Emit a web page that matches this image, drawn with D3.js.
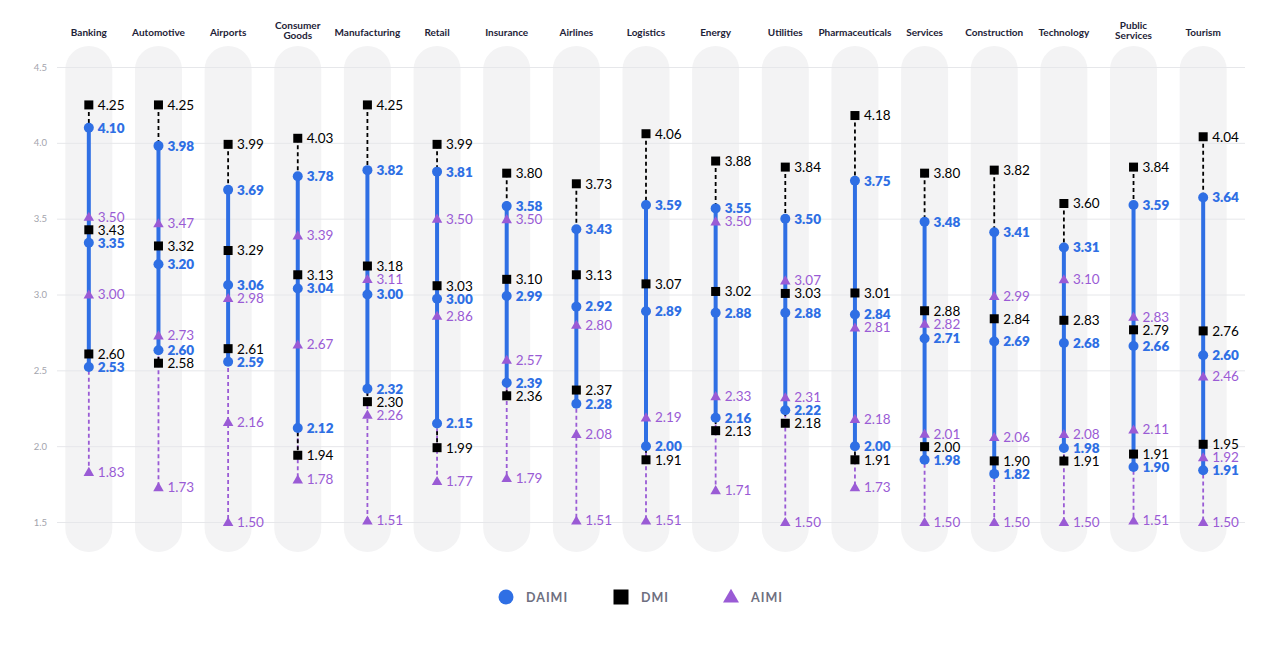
<!DOCTYPE html>
<html lang="en">
<head>
<meta charset="UTF-8">
<script src="https://d3js.org/d3.v7.min.js"></script>
<style>
  body { margin: 0; background: #fff; }
  svg text { font-family: Lato, "Noto Sans", sans-serif; }
</style>
</head>
<body>
<div id="chart"></div>
<script>
const categories = ["Banking", "Automotive", "Airports", "Consumer Goods", "Manufacturing", "Retail",
  "Insurance", "Airlines", "Logistics", "Energy", "Utilities", "Pharmaceuticals", "Services",
  "Construction", "Technology", "Public Services", "Tourism"];

// high / middle / low per sector
const daimiHigh = [4.10, 3.98, 3.69, 3.78, 3.82, 3.81, 3.58, 3.43, 3.59, 3.55, 3.50, 3.75, 3.48, 3.41, 3.31, 3.59, 3.64];
const daimiMid  = [3.35, 3.20, 3.06, 3.04, 3.00, 3.00, 2.99, 2.92, 2.89, 2.88, 2.88, 2.84, 2.71, 2.69, 2.68, 2.66, 2.60];
const daimiLow  = [2.53, 2.60, 2.59, 2.12, 2.32, 2.15, 2.39, 2.28, 2.00, 2.16, 2.22, 2.00, 1.98, 1.82, 1.98, 1.90, 1.91];

const dmiHigh = [4.25, 4.25, 3.99, 4.03, 4.25, 3.99, 3.80, 3.73, 4.06, 3.88, 3.84, 4.18, 3.80, 3.82, 3.60, 3.84, 4.04];
const dmiMid  = [3.43, 3.32, 3.29, 3.13, 3.18, 3.03, 3.10, 3.13, 3.07, 3.02, 3.03, 3.01, 2.88, 2.84, 2.83, 2.79, 2.76];
const dmiLow  = [2.60, 2.58, 2.61, 1.94, 2.30, 1.99, 2.36, 2.37, 1.91, 2.13, 2.18, 1.91, 2.00, 1.90, 1.91, 1.91, 1.95];

const aimiHigh = [3.50, 3.47, 2.98, 3.39, 3.11, 3.50, 3.50, 2.80, null, 3.50, 3.07, 2.81, 2.82, 2.99, 3.10, 2.83, 2.46];
const aimiMid  = [3.00, 2.73, 2.16, 2.67, 2.26, 2.86, 2.57, 2.08, 2.19, 2.33, 2.31, 2.18, 2.01, 2.06, 2.08, 2.11, 1.92];
const aimiLow  = [1.83, 1.73, 1.50, 1.78, 1.51, 1.77, 1.79, 1.51, 1.51, 1.71, 1.50, 1.73, 1.50, 1.50, 1.50, 1.51, 1.50];

const yTicks = [1.5, 2.0, 2.5, 3.0, 3.5, 4.0, 4.5];

const BLUE = "#2f6fe4", PURPLE = "#9a5bd5", BLACK = "#000";

const width = 1280, height = 647;
const svg = d3.select("#chart").append("svg")
  .attr("width", width).attr("height", height);

const x = d3.scaleBand().domain(categories).range([54, 1238]).padding(0);
const y = d3.scaleLinear().domain([1.5, 4.5]).range([522, 67]);
const cx = d => x(d) + x.bandwidth() / 2;

// background pills
const pillW = 47;
svg.append("g").selectAll("rect").data(categories).join("rect")
  .attr("x", d => cx(d) - pillW / 2)
  .attr("y", 46)
  .attr("width", pillW)
  .attr("height", 506)
  .attr("rx", pillW / 2)
  .attr("fill", "#f3f3f4");

// grid + y labels
const yAxis = svg.append("g")
  .attr("transform", "translate(57,0)")
  .call(d3.axisLeft(y).tickValues(yTicks).tickFormat(d3.format(".1f")).tickSize(-1188).tickPadding(10));
yAxis.select(".domain").remove();
yAxis.selectAll(".tick line").attr("stroke", "#e6e7ea").attr("stroke-width", 1);
yAxis.selectAll(".tick text").attr("fill", "#a3a4ad").attr("font-size", 9.5);

// category labels
const catG = svg.append("g");
categories.forEach(c => {
  const parts = c === "Consumer Goods" ? ["Consumer", "Goods"]
              : c === "Public Services" ? ["Public", "Services"] : [c];
  const t = catG.append("text")
    .attr("x", cx(c))
    .attr("y", parts.length > 1 ? 29 : 36)
    .attr("text-anchor", "middle")
    .attr("font-size", 10)
    .attr("font-weight", 700)
    .attr("fill", "#1d2237");
  parts.forEach((p, i) => t.append("tspan").attr("x", cx(c)).attr("dy", i ? 9.5 : 0).text(p));
});

// collect points, then spread the ones that sit too close in a column
const series = [
  { key: "aimi", kind: "tri", color: PURPLE, arrs: [aimiHigh, aimiMid, aimiLow] },
  { key: "dmi", kind: "sq", color: BLACK, arrs: [dmiHigh, dmiMid, dmiLow] },
  { key: "daimi", kind: "circ", color: BLUE, arrs: [daimiHigh, daimiMid, daimiLow] }
];
const pts = [];
series.forEach(s => s.arrs.forEach(arr => arr.forEach((v, i) => {
  if (v != null) pts.push({ s: s.key, kind: s.kind, color: s.color, ci: i, cat: categories[i], v, py: y(v) });
})));

const gap = 13;
categories.forEach((c, ci) => {
  const col = pts.filter(p => p.ci === ci).sort((a, b) => a.py - b.py || b.v - a.v);
  for (let it = 0; it < 300; it++) {
    let moved = false;
    for (let k = 1; k < col.length; k++) {
      const d = col[k].py - col[k - 1].py;
      if (d < gap - 0.01) {
        const sh = (gap - d) / 2;
        col[k - 1].py -= sh;
        col[k].py += sh;
        moved = true;
      }
    }
    if (!moved) break;
  }
});

// range lines, between the extreme points of each series
function rangeLine(s, width, dash) {
  const spans = categories.map((c, ci) => {
    const ys = pts.filter(p => p.s === s && p.ci === ci).map(p => p.py);
    return { c, y1: d3.min(ys), y2: d3.max(ys) };
  });
  svg.append("g").selectAll("line").data(spans).join("line")
    .attr("x1", d => cx(d.c)).attr("x2", d => cx(d.c))
    .attr("y1", d => d.y1).attr("y2", d => d.y2)
    .attr("stroke", s === "aimi" ? PURPLE : s === "dmi" ? BLACK : BLUE)
    .attr("stroke-width", width)
    .attr("stroke-dasharray", dash);
}
rangeLine("aimi", 1.8, "4,3");
rangeLine("dmi", 1.8, "4,3");
rangeLine("daimi", 4, null);

// markers + value labels
series.forEach(s => {
  const data = pts.filter(p => p.s === s.key);
  const g = svg.append("g");
  if (s.kind === "tri") {
    g.selectAll("path").data(data).join("path")
      .attr("transform", d => `translate(${cx(d.cat)},${d.py + 1})`)
      .attr("d", d3.symbol(d3.symbolTriangle, 48))
      .attr("fill", s.color);
  } else if (s.kind === "sq") {
    g.selectAll("rect").data(data).join("rect")
      .attr("x", d => cx(d.cat) - 4.5).attr("y", d => d.py - 4.5)
      .attr("width", 9).attr("height", 9)
      .attr("fill", s.color);
  } else {
    g.selectAll("circle").data(data).join("circle")
      .attr("cx", d => cx(d.cat)).attr("cy", d => d.py)
      .attr("r", 5).attr("fill", s.color);
  }
  g.selectAll("text").data(data).join("text")
    .attr("x", d => cx(d.cat) + 9)
    .attr("y", d => d.py)
    .attr("dy", "0.36em")
    .attr("font-size", 13.5)
    .attr("font-weight", s.kind === "circ" ? 800 : 400)
    .attr("fill", s.color)
    .text(d => d.v.toFixed(2));
});

// legend
const legend = [
  { name: "DAIMI", kind: "circ", x: 506 },
  { name: "DMI", kind: "sq", x: 621 },
  { name: "AIMI", kind: "tri", x: 731 }
];
const lg = svg.append("g");
legend.forEach(l => {
  if (l.kind === "circ") lg.append("circle").attr("cx", l.x).attr("cy", 597).attr("r", 7.5).attr("fill", BLUE);
  else if (l.kind === "sq") lg.append("rect").attr("x", l.x - 7.5).attr("y", 589.5).attr("width", 15).attr("height", 15).attr("fill", BLACK);
  else lg.append("path").attr("transform", `translate(${l.x},598)`).attr("d", d3.symbol(d3.symbolTriangle, 110)).attr("fill", PURPLE);
  lg.append("text")
    .attr("x", l.x + 20).attr("y", 597).attr("dy", "0.36em")
    .attr("font-size", 12.5).attr("font-weight", 700)
    .attr("letter-spacing", 1)
    .attr("fill", "#6e6f80")
    .text(l.name);
});
</script>
</body>
</html>
